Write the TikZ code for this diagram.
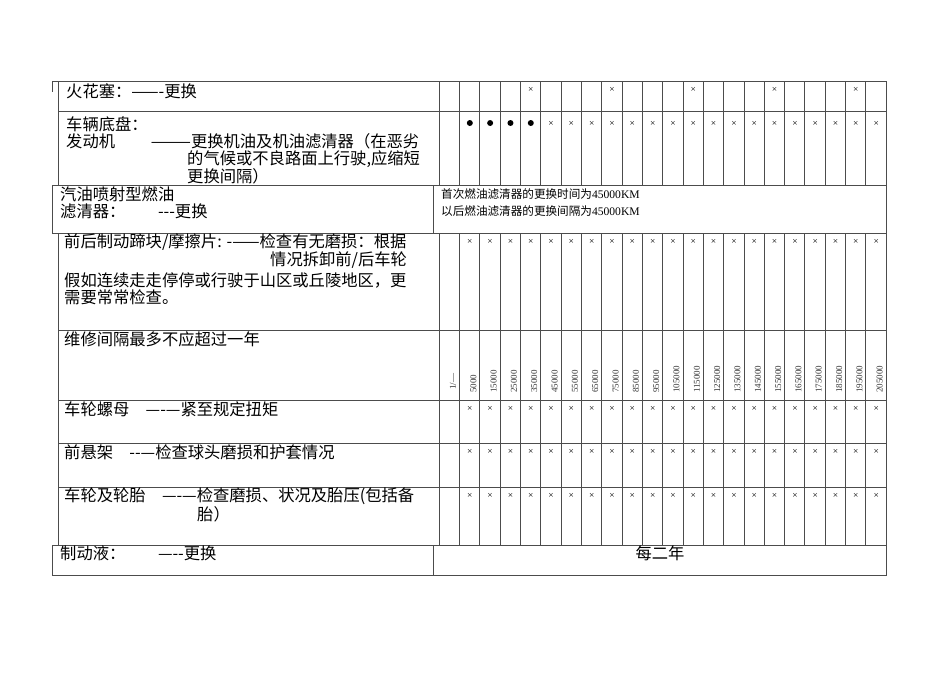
\documentclass[tikz,border=0pt]{standalone}
\usepackage{fontspec}
\setmainfont{Liberation Serif}
\newfontfamily\cjk{Noto Sans CJK SC}
\begin{document}
\begin{tikzpicture}[x=1pt,y=-1pt,
  grid/.style={draw=black!70,line width=0.6pt},
  txt/.style={anchor=west,inner sep=0pt,font=\cjk\fontsize{16.3}{18}\selectfont},
  small/.style={anchor=west,inner sep=0pt,font=\cjk\fontsize{11.6}{13}\selectfont},
  mk/.style={inner sep=0pt,font=\fontsize{9.5}{9.5}\selectfont}]
\useasboundingbox (0,0) rectangle (950,672);
% outer lines
\draw[grid] (52,81) -- (886,81);
\draw[grid] (52,81) -- (52,92);
\draw[grid] (58,81) -- (58,185);
\draw[grid] (58,111) -- (886,111);
\draw[grid] (52,185) -- (886,185);
\draw[grid] (52,185) -- (52,233) -- (886,233);
\draw[grid] (433,185) -- (433,233);
\draw[grid] (58,233) -- (58,545);
\foreach \y in {330,400,443,487} \draw[grid] (58,\y) -- (886,\y);
\draw[grid] (52,545) rectangle (886,575);
\draw[grid] (433,545) -- (433,575);
\draw[grid] (886,81) -- (886,545);
% column lines
\foreach \i in {0,...,21} {
  \pgfmathsetmacro\xx{439+20.32*\i}
  \draw[grid] (\xx,81) -- (\xx,185);
  \draw[grid] (\xx,233) -- (\xx,545);
}
% marks
\foreach \i in {4,8,12,16,20} \node[mk] at (449.5+20.32*\i,90) {×};
\foreach \i in {1,...,4} \fill (449.5+20.32*\i,123) circle (3);
\foreach \i in {5,...,21} \node[mk] at (449.5+20.32*\i,124) {×};
\foreach \y in {242,409,452,496}
  \foreach \i in {1,...,21} \node[mk] at (449.5+20.32*\i,\y) {×};
% header numbers
\node[rotate=90,anchor=west,inner sep=0pt,font=\fontsize{9}{9}\selectfont,text=black!80] at (453,390) {1/---};
\foreach [count=\i] \v in {5000,15000,25000,35000,45000,55000,65000,75000,85000,95000,105000,115000,125000,135000,145000,155000,165000,175000,185000,195000,205000}
  \node[rotate=90,anchor=west,inner sep=0pt,font=\fontsize{9}{9}\selectfont,text=black!80] at (453+20.32*\i,393) {\v};
% texts
\node[txt] (t1) at (66,91) {火花塞：——-更换};
\node[txt] (t2a) at (66,124) {车辆底盘：};
\node[txt] (t2b) at (66,141) {发动机\hspace{2.2em}———更换机油及机油滤清器（在恶劣};
\node[txt] (t2c) at (187,159) {的气候或不良路面上行驶,应缩短};
\node[txt] (t2d) at (187,176) {更换间隔）};
\node[txt] (t3a) at (60,194) {汽油喷射型燃油};
\node[txt] (t3b) at (60,211) {滤清器：\hspace{2em}---更换};
\node[small] (t3c) at (441,194) {首次燃油滤清器的更换时间为\rmfamily 45000KM};
\node[small] (t3d) at (441,211) {以后燃油滤清器的更换间隔为\rmfamily 45000KM};
\node[txt] (t4a) at (64,242) {前后制动蹄块/摩擦片: -——检查有无磨损：根据};
\node[txt] (t4b) at (270,260) {情况拆卸前/后车轮};
\node[txt] (t4c) at (64,280) {假如连续走走停停或行驶于山区或丘陵地区，更};
\node[txt] (t4d) at (64,297) {需要常常检查。};
\node[txt] (t5) at (64,339) {维修间隔最多不应超过一年};
\node[txt] (t6) at (64,409) {车轮螺母\hspace{1em}—-—紧至规定扭矩};
\node[txt] (t7) at (64,452) {前悬架\hspace{1em}--—检查球头磨损和护套情况};
\node[txt] (t8a) at (64,496) {车轮及轮胎\hspace{1em}—-—检查磨损、状况及胎压(包括备};
\node[txt] (t8b) at (197,514) {胎）};
\node[txt] (t9) at (60,553) {制动液：\hspace{2em}—--更换};
\node[inner sep=0pt,font=\cjk\fontsize{16.3}{18}\selectfont] (t9b) at (660,553) {每二年};
\end{tikzpicture}
\end{document}
